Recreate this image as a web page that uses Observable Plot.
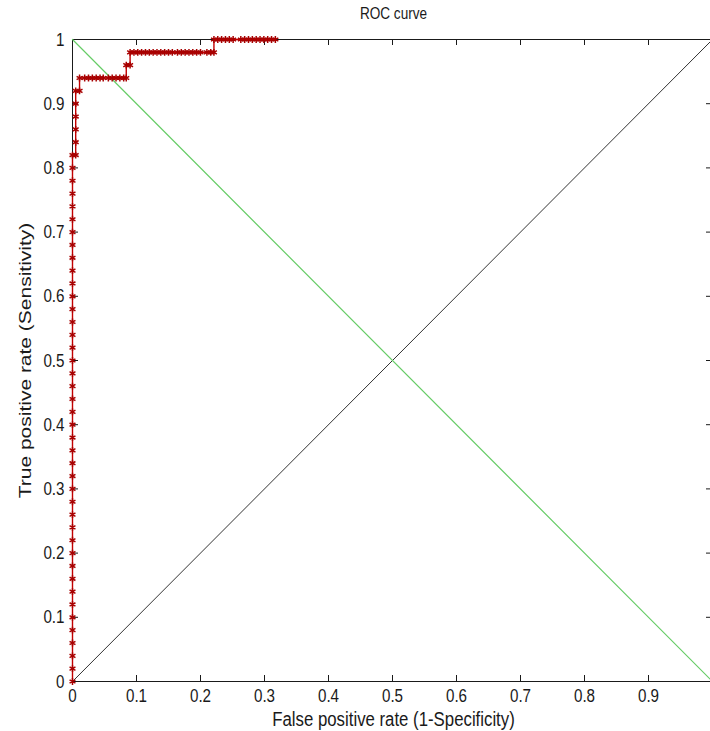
<!DOCTYPE html>
<html>
<head>
<meta charset="utf-8">
<script src="https://cdn.jsdelivr.net/npm/d3@7"></script>
<script src="https://cdn.jsdelivr.net/npm/@observablehq/plot@0.6"></script>
<style>
  html, body { margin: 0; padding: 0; background: #fff; }
  svg { display: block; }
</style>
</head>
<body>
<div id="chart"></div>
<script>
// ---- data ----
const titleText = "ROC curve";
const xLabelText = "False positive rate (1-Specificity)";
const yLabelText = "True positive rate (Sensitivity)";

const xTicks = [0, 0.1, 0.2, 0.3, 0.4, 0.5, 0.6, 0.7, 0.8, 0.9, 1];
const xTickLabels = ["0", "0.1", "0.2", "0.3", "0.4", "0.5", "0.6", "0.7", "0.8", "0.9", "1"];
const yTicks = [0, 0.1, 0.2, 0.3, 0.4, 0.5, 0.6, 0.7, 0.8, 0.9, 1];
const yTickLabels = ["0", "0.1", "0.2", "0.3", "0.4", "0.5", "0.6", "0.7", "0.8", "0.9", "1"];

// ROC curve points (false positive rate, true positive rate)
const fpr = [
  0,0,0,0,0,0,0,0,0,0, 0,0,0,0,0,0,0,0,0,0, 0,0,0,0,0,0,0,0,0,0, 0,0,0,0,0,0,0,0,0,0, 0,0,
  0.005,0.005,0.005,0.005,0.005,0.005,
  0.011,0.011,
  0.019,0.025,0.031,0.037,0.043,0.048,0.056,0.062,0.068,0.074,0.080,0.084,
  0.084,0.090,0.090,
  0.096,0.102,0.108,0.114,0.120,0.126,0.132,0.138,0.144,0.150,0.156,0.164,0.170,0.176,0.182,0.188,0.194,0.200,0.210,0.216,0.221,
  0.221,
  0.227,0.233,0.239,0.245,0.251,0.263,0.269,0.275,0.281,0.287,0.293,0.299,0.305,0.311,0.317
];
const tpr = [
  0,0.02,0.04,0.06,0.08,0.10,0.12,0.14,0.16,0.18,0.20,0.22,0.24,0.26,0.28,0.30,0.32,0.34,0.36,0.38,0.40,0.42,0.44,0.46,0.48,0.50,0.52,0.54,0.56,0.58,0.60,0.62,0.64,0.66,0.68,0.70,0.72,0.74,0.76,0.78,0.80,0.82,
  0.82,0.84,0.86,0.88,0.90,0.92,
  0.92,0.94,
  0.94,0.94,0.94,0.94,0.94,0.94,0.94,0.94,0.94,0.94,0.94,0.94,
  0.96,0.96,0.98,
  0.98,0.98,0.98,0.98,0.98,0.98,0.98,0.98,0.98,0.98,0.98,0.98,0.98,0.98,0.98,0.98,0.98,0.98,0.98,0.98,0.98,
  1,
  1,1,1,1,1,1,1,1,1,1,1,1,1,1,1
];

// reference diagonals
const chanceX = [0, 1];
const chanceY = [0, 1];
const crossX = [0, 1];
const crossY = [1, 0];

// ---- build ----
const roc = fpr.map((x, i) => ({fpr: x, tpr: tpr[i]}));
const chance = chanceX.map((x, i) => ({x, y: chanceY[i]}));
const cross = crossX.map((x, i) => ({x, y: crossY[i]}));
const xFmt = new Map(xTicks.map((t, i) => [t, xTickLabels[i]]));
const yFmt = new Map(yTicks.map((t, i) => [t, yTickLabels[i]]));

const W = 710, H = 731, ML = 72, MT = 39, MB = 50;
const frameW = W - ML, frameH = H - MT - MB;
const tickLen = 6;

const chart = Plot.plot({
  width: W,
  height: H,
  marginLeft: ML,
  marginRight: 0,
  marginTop: MT,
  marginBottom: MB,
  style: {fontFamily: "'Liberation Sans', Arial, sans-serif", color: "#1a1a1a", background: "#fff"},
  x: {domain: [0, 1], range: [ML, 712], axis: null},
  y: {domain: [0, 1], axis: null},
  marks: [
    // box
    Plot.ruleY([0, 1], {stroke: "#1a1a1a", strokeWidth: 1}),
    Plot.ruleX([0], {stroke: "#1a1a1a", strokeWidth: 1}),
    // inward ticks
    Plot.ruleX(xTicks, {x: d => d, insetTop: frameH - tickLen, stroke: "#1a1a1a"}),
    Plot.ruleX(xTicks, {x: d => d, insetBottom: frameH - tickLen, stroke: "#1a1a1a"}),
    Plot.ruleY(yTicks, {y: d => d, insetRight: frameW - tickLen, stroke: "#1a1a1a"}),
    Plot.ruleY(yTicks, {y: d => d, insetLeft: frameW - tickLen + 2, stroke: "#1a1a1a"}),
    // tick labels
    Plot.axisX(xTicks.filter(t => t < 1), {tickSize: 0, tickPadding: 7, fontSize: 19, tickFormat: d => xFmt.get(d), label: null}),
    Plot.axisY(yTicks, {tickSize: 0, tickPadding: 8, fontSize: 19, tickFormat: d => yFmt.get(d), label: null}),
    // diagonals
    Plot.line(chance, {x: "x", y: "y", stroke: "#333", strokeWidth: 1}),
    Plot.line(cross, {x: "x", y: "y", stroke: "#66cc66", strokeWidth: 1.2}),
    // ROC curve
    Plot.line(roc, {x: "fpr", y: "tpr", stroke: "#c40000", strokeWidth: 1.4}),
    Plot.dot(roc, {x: "fpr", y: "tpr", symbol: "asterisk", r: 3.2, stroke: "#a80000", strokeWidth: 1.5}),
    // titles
    Plot.text([titleText], {frameAnchor: "top", lineAnchor: "middle", textAnchor: "middle", dy: -26, dx: 2, fontSize: 17, fill: "#1a1a1a"}),
    Plot.text([xLabelText], {frameAnchor: "bottom", lineAnchor: "middle", textAnchor: "middle", dy: 38, dx: 2, fontSize: 21, fill: "#1a1a1a"}),
    Plot.text([yLabelText], {frameAnchor: "left", lineAnchor: "middle", textAnchor: "middle", rotate: -90, dx: -47, fontSize: 21, fill: "#1a1a1a"})
  ]
});

// mimic the horizontally-narrow text of the reference
chart.querySelectorAll("text").forEach(t => {
  const tr = t.getAttribute("transform") || "";
  const rot = /rotate/.test(tr);
  t.setAttribute("transform", `${tr} scale(${rot ? "1,0.8" : "0.8,1"})`);
});

document.getElementById("chart").appendChild(chart);
</script>
</body>
</html>
